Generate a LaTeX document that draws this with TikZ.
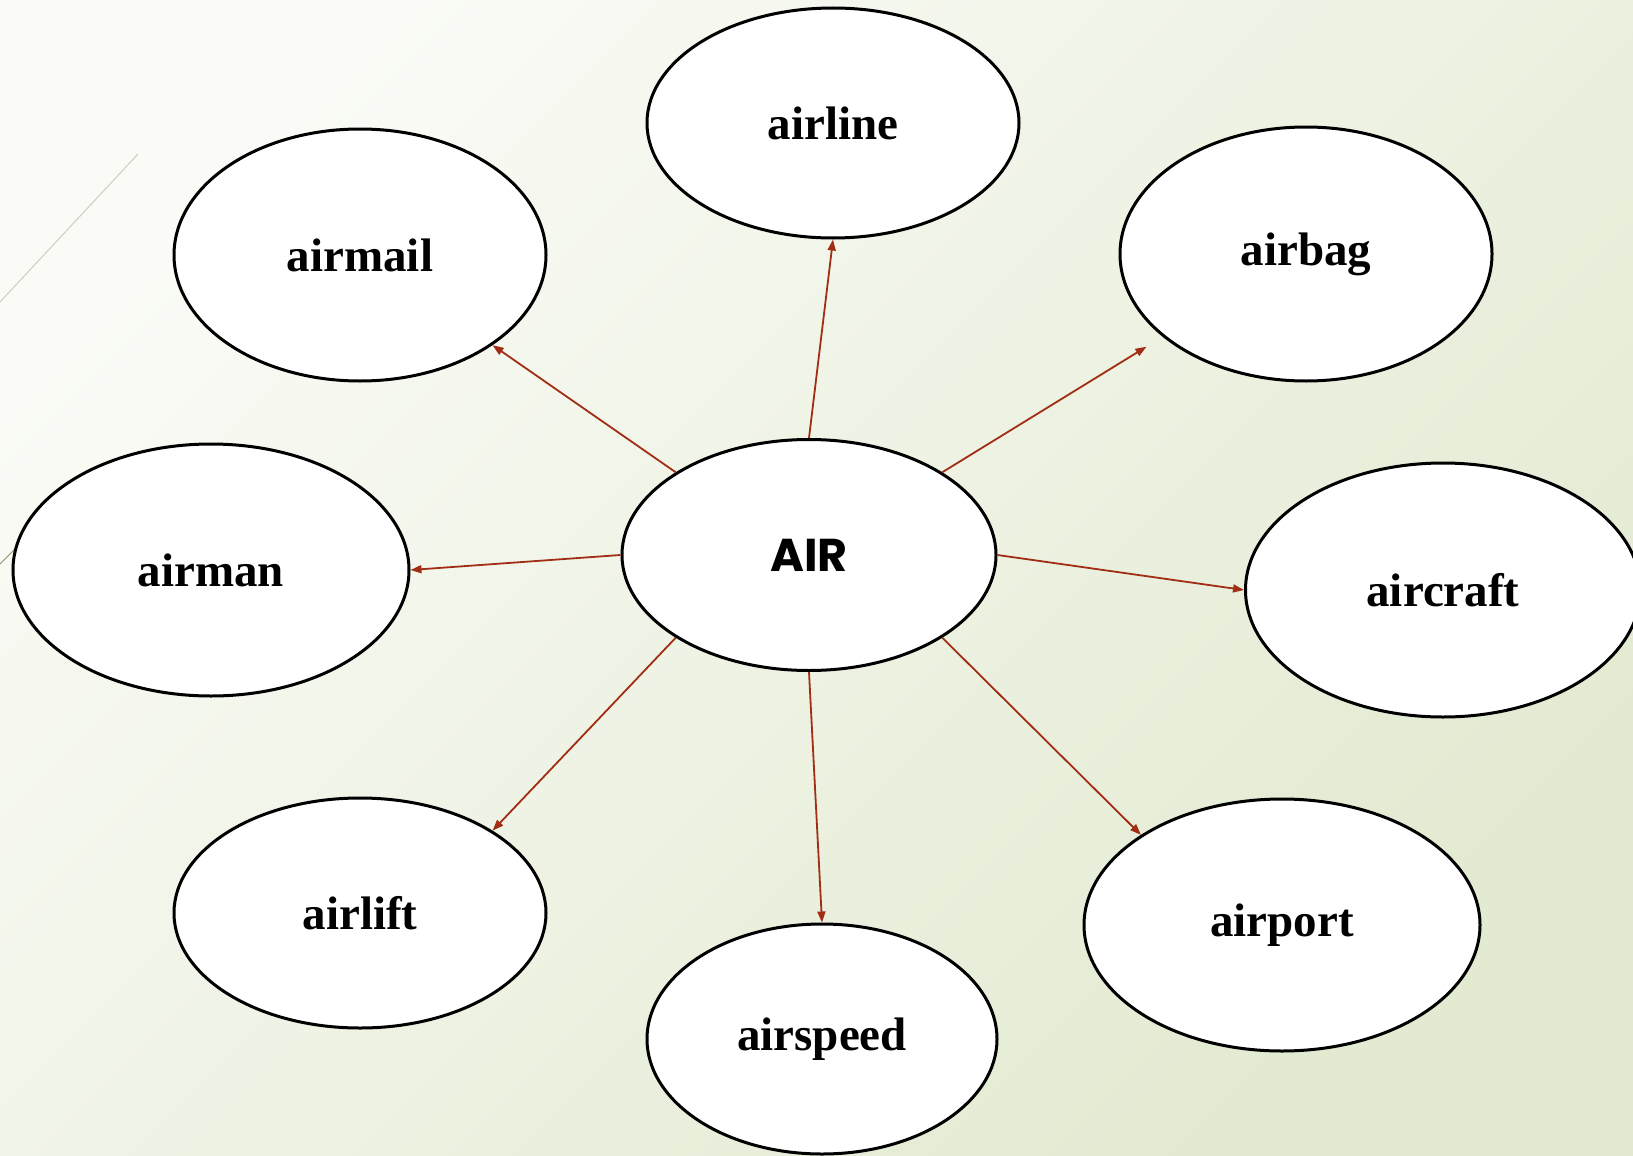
\documentclass[tikz,border=0pt]{standalone}
\usepackage{fontspec}
\setmainfont{Liberation Serif}
\newfontfamily\hubfont{Poppins}
\usetikzlibrary{shapes.geometric,arrows.meta}

\definecolor{bgA}{RGB}{250,251,246}
\definecolor{bgB}{RGB}{238,242,227}
\definecolor{bgC}{RGB}{226,234,209}
\definecolor{linkred}{RGB}{160,45,20}
\definecolor{deco}{RGB}{205,205,195}
\definecolor{decodark}{RGB}{150,140,110}

\tikzset{
  bubble/.style={ellipse, draw=black, line width=3pt, fill=white,
    inner sep=0pt, font=\fontsize{47}{50}\selectfont\bfseries},
  hub/.style={bubble, font=\hubfont\fontsize{46}{50}\selectfont\bfseries},
  link/.style={draw=linkred, line width=1.8pt,
    -{Triangle[length=11pt,width=8pt]}},
}

\begin{document}
\begin{tikzpicture}[x=1pt,y=-1pt]
  % page background
  \shade[top color=bgA, middle color=bgB, bottom color=bgC, shading angle=45]
    (0,0) rectangle (1633,1156);
  \useasboundingbox (0,0) rectangle (1633,1156);

  % faint diagonal strokes at the left edge
  \draw[deco, line width=1pt] (138,154) -- (0,302);
  \draw[decodark, line width=1pt] (0,564) -- (40,524);

  % centre word
  \node[hub, minimum width=374pt, minimum height=231pt] (air) at (809,555) {AIR};

  % derived words
  \node[bubble, minimum width=372pt, minimum height=230pt] (airline)  at (833,123)  {airline};
  \node[bubble, minimum width=372pt, minimum height=252pt] (airmail)  at (360,255)  {airmail};
  \node[bubble, minimum width=372pt, minimum height=254pt] (airbag)   at (1306,254) {airbag};
  \node[bubble, minimum width=396pt, minimum height=252pt] (airman)   at (211,570)  {airman};
  \node[bubble, minimum width=395pt, minimum height=254pt] (aircraft) at (1443,590) {aircraft};
  \node[bubble, minimum width=372pt, minimum height=230pt] (airlift)  at (360,913)  {airlift};
  \node[bubble, minimum width=350pt, minimum height=230pt] (airspeed) at (822,1039) {airspeed};
  \node[bubble, minimum width=396pt, minimum height=252pt] (airport)  at (1282,925) {airport};

  % connectors from the centre word
  \draw[link] (air.north)      -- (airline.south);
  \draw[link] (air.north west) -- (airmail.south east);
  \draw[link, shorten >=19pt] (air.north east) -- (airbag.210);
  \draw[link] (air.west)       -- (airman.east);
  \draw[link] (air.east)       -- (aircraft.west);
  \draw[link] (air.south west) -- (airlift.north east);
  \draw[link] (air.south)      -- (airspeed.north);
  \draw[link] (air.south east) -- (airport.north west);
\end{tikzpicture}
\end{document}
